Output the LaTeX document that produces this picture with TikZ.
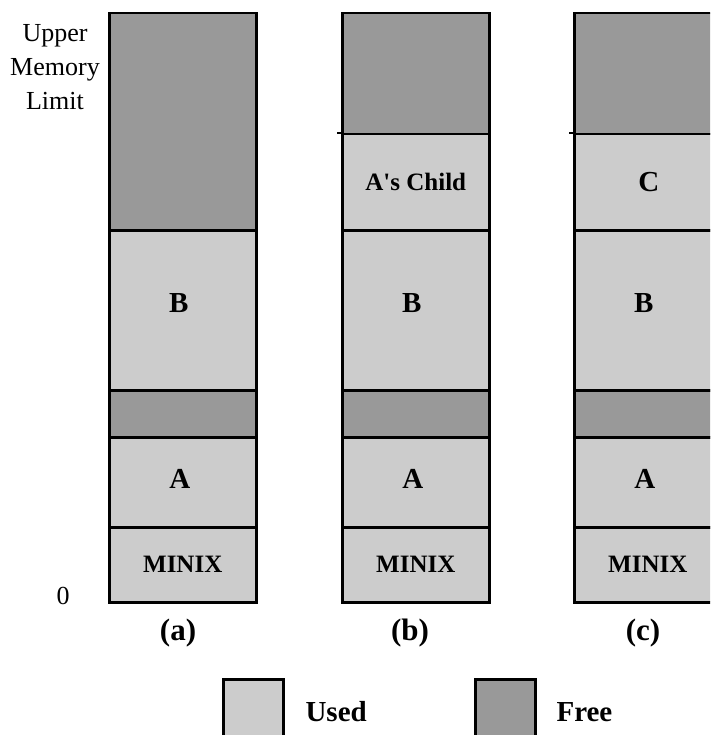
\documentclass[tikz,border=0pt]{standalone}
\usepackage{fontspec}
\setmainfont{Liberation Serif}[Ligatures=TeXOff]
\begin{document}
\begin{tikzpicture}[x=1pt,y=-1pt,
  seg/.style={draw=black,line width=2.5pt,minimum width=147pt,anchor=north west,
    inner sep=0pt,font=\fontsize{25}{30}\selectfont\bfseries},
  letter/.style={font=\fontsize{29}{34}\selectfont\bfseries,inner sep=0pt},
  usedseg/.style={seg,fill=usedgray},
  freeseg/.style={seg,fill=freegray},
  caption/.style={font=\fontsize{31}{36}\selectfont\bfseries},
  axislabel/.style={font=\fontsize{26}{34}\selectfont,align=center},
  legendbox/.style={draw=black,line width=2.5pt,minimum width=60pt,minimum height=70pt,anchor=north west,inner sep=0pt},
  legendtext/.style={font=\fontsize{29}{34}\selectfont\bfseries,anchor=west}]
\definecolor{usedgray}{HTML}{CCCCCC}
\definecolor{freegray}{HTML}{999999}
\useasboundingbox (0,0) rectangle (710,735);
\clip (0,0) rectangle (710,735);

% axis labels
\node[axislabel] (upper) at (55,67) {Upper\\Memory\\Limit};
\node[axislabel] (zero) at (63,596) {0};

% column (a)
\node[freeseg,minimum height=217pt] (aTop) at (108,12) {};
\node[usedseg,minimum height=160pt] (aB) at (108,229) {};
\node[freeseg,minimum height=47pt] (aGap) at (108,389) {};
\node[usedseg,minimum height=90pt] (aA) at (108,436) {};
\node[usedseg,minimum height=75pt] (aM) at (108,526) {MINIX};
\node[letter] (aBtext) at ([shift={(-4,-7)}]aB.center) {B};
\node[letter] (aAtext) at ([shift={(-3,-3)}]aA.center) {A};
\node[caption] (capA) at (178,633) {(a)};

% column (b)
\node[freeseg,minimum height=121pt] (bTop) at (341,12) {};
\node[usedseg,minimum height=96pt] (bChild) at (341,133) {A's Child};
\node[usedseg,minimum height=160pt] (bB) at (341,229) {};
\node[freeseg,minimum height=47pt] (bGap) at (341,389) {};
\node[usedseg,minimum height=90pt] (bA) at (341,436) {};
\node[usedseg,minimum height=75pt] (bM) at (341,526) {MINIX};
\node[letter] (bBtext) at ([shift={(-4,-7)}]bB.center) {B};
\node[letter] (bAtext) at ([shift={(-3,-3)}]bA.center) {A};
\node[caption] (capB) at (410,633) {(b)};
\coordinate (bTick) at (337,133);
\draw[line width=2.5pt] (bTick) -- (bChild.north west);

% column (c)
\node[freeseg,minimum height=121pt] (cTop) at (573,12) {};
\node[usedseg,minimum height=96pt] (cC) at (573,133) {};
\node[usedseg,minimum height=160pt] (cB) at (573,229) {};
\node[freeseg,minimum height=47pt] (cGap) at (573,389) {};
\node[usedseg,minimum height=90pt] (cA) at (573,436) {};
\node[usedseg,minimum height=75pt] (cM) at (573,526) {MINIX};
\node[letter] (cCtext) at ([shift={(1,0)}]cC.center) {C};
\node[letter] (cBtext) at ([shift={(-4,-7)}]cB.center) {B};
\node[letter] (cAtext) at ([shift={(-3,-3)}]cA.center) {A};
\node[caption] (capC) at (643,633) {(c)};
\coordinate (cTick) at (569,133);
\draw[line width=2.5pt] (cTick) -- (cC.north west);

% legend
\node[legendbox,fill=usedgray] (usedKey) at (222,678) {};
\node[legendtext] (usedText) at (302,712) {Used};
\node[legendbox,fill=freegray] (freeKey) at (474,678) {};
\node[legendtext] (freeText) at (553,712) {Free};
\end{tikzpicture}
\end{document}
